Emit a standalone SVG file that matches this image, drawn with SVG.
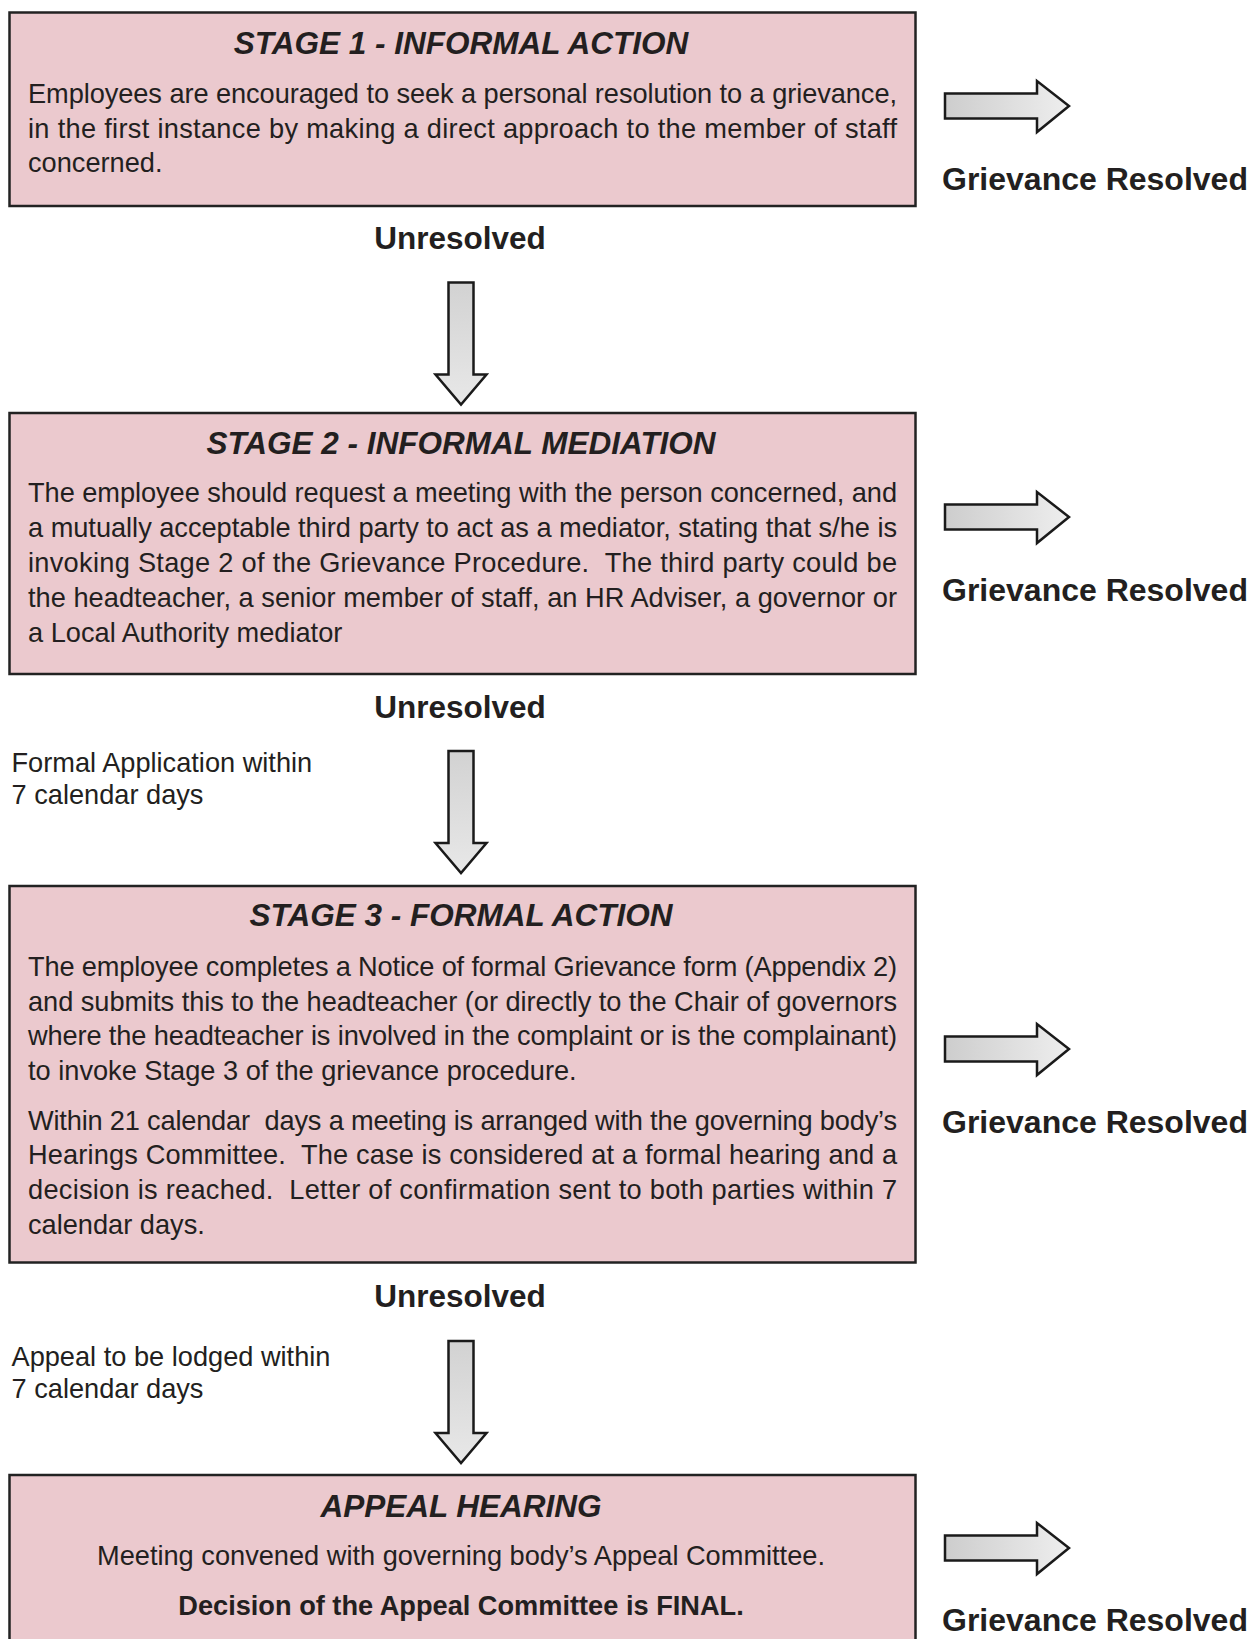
<svg xmlns="http://www.w3.org/2000/svg" width="1250" height="1639" viewBox="0 0 1250 1639">
<defs>
<linearGradient id="gh" x1="0" y1="0" x2="1" y2="0"><stop offset="0" stop-color="#cdcdcd"/><stop offset="1" stop-color="#eeeeee"/></linearGradient>
<linearGradient id="gv" x1="0" y1="0" x2="0" y2="1"><stop offset="0" stop-color="#d2d2d2"/><stop offset="1" stop-color="#e8e8e8"/></linearGradient>
<path id="ra" d="M0,-12.5 H92 V-25 L124,0 L92,26 V12.5 H0 Z"/>
<path id="da" d="M-12.5,0 H12.5 V92 H25.5 L0,122 L-25.5,92 H-12.5 Z"/>
</defs>
<style>
.box{fill:#ebc9ce;stroke:#222;stroke-width:2.5}
.t{font-family:"Liberation Sans",Arial,sans-serif;fill:#231f20;white-space:pre}
.title{font-size:31.5px;font-weight:bold;font-style:italic;text-anchor:middle}
.body{font-size:27.2px}
.lbl{font-size:31.5px;font-weight:bold}
.gr{font-size:32px;font-weight:bold}
.ctr{text-anchor:middle}
.rarr{fill:url(#gh);stroke:#1a1a1a;stroke-width:2.5;stroke-linejoin:miter}
.darr{fill:url(#gv);stroke:#1a1a1a;stroke-width:2.5;stroke-linejoin:miter}
</style>
<rect width="1250" height="1639" fill="#fff"/>

<g id="stage1">
<rect class="box" x="9.5" y="12.5" width="906" height="193.5"/>
<text class="t title" x="461" y="53.5">STAGE 1 - INFORMAL ACTION</text>
<text class="t body" x="28" y="103" textLength="869" lengthAdjust="spacing">Employees are encouraged to seek a personal resolution to a grievance,</text>
<text class="t body" x="28" y="137.5" textLength="869" lengthAdjust="spacing">in the first instance by making a direct approach to the member of staff</text>
<text class="t body" x="28" y="172">concerned.</text>
</g>

<g id="stage2">
<rect class="box" x="9.5" y="413" width="906" height="261"/>
<text class="t title" x="461" y="453.5">STAGE 2 - INFORMAL MEDIATION</text>
<text class="t body" x="28" y="502" textLength="869" lengthAdjust="spacing">The employee should request a meeting with the person concerned, and</text>
<text class="t body" x="28" y="537" textLength="869" lengthAdjust="spacing">a mutually acceptable third party to act as a mediator, stating that s/he is</text>
<text class="t body" x="28" y="572" textLength="869" lengthAdjust="spacing">invoking Stage 2 of the Grievance Procedure.  The third party could be</text>
<text class="t body" x="28" y="606.5" textLength="869" lengthAdjust="spacing">the headteacher, a senior member of staff, an HR Adviser, a governor or</text>
<text class="t body" x="28" y="641.5">a Local Authority mediator</text>
</g>

<g id="stage3">
<rect class="box" x="9.5" y="886" width="906" height="376.5"/>
<text class="t title" x="461" y="926">STAGE 3 - FORMAL ACTION</text>
<text class="t body" x="28" y="976" textLength="869" lengthAdjust="spacing">The employee completes a Notice of formal Grievance form (Appendix 2)</text>
<text class="t body" x="28" y="1010.5" textLength="869" lengthAdjust="spacing">and submits this to the headteacher (or directly to the Chair of governors</text>
<text class="t body" x="28" y="1045" textLength="869" lengthAdjust="spacing">where the headteacher is involved in the complaint or is the complainant)</text>
<text class="t body" x="28" y="1080">to invoke Stage 3 of the grievance procedure.</text>
<text class="t body" x="28" y="1129.5" textLength="869" lengthAdjust="spacing">Within 21 calendar  days a meeting is arranged with the governing body’s</text>
<text class="t body" x="28" y="1164" textLength="869" lengthAdjust="spacing">Hearings Committee.  The case is considered at a formal hearing and a</text>
<text class="t body" x="28" y="1199" textLength="869" lengthAdjust="spacing">decision is reached.  Letter of confirmation sent to both parties within 7</text>
<text class="t body" x="28" y="1234">calendar days.</text>
</g>

<g id="appeal">
<rect class="box" x="9.5" y="1475" width="906" height="200"/>
<text class="t title" x="461" y="1516.5">APPEAL HEARING</text>
<text class="t body ctr" x="461" y="1565">Meeting convened with governing body’s Appeal Committee.</text>
<text class="t body ctr" x="461" y="1615" font-weight="bold" font-size="27px">Decision of the Appeal Committee is FINAL.</text>
</g>

<g id="resolved1">
<text class="t gr" x="942" y="190">Grievance Resolved</text>
</g>
<g id="resolved2">
<text class="t gr" x="942" y="600.5">Grievance Resolved</text>
</g>
<g id="resolved3">
<text class="t gr" x="942" y="1132.5">Grievance Resolved</text>
</g>
<g id="resolved4">
<text class="t gr" x="942" y="1631">Grievance Resolved</text>
</g>

<g id="labels">
<text class="t lbl ctr" x="460" y="248.5">Unresolved</text>
<text class="t lbl ctr" x="460" y="717.5">Unresolved</text>
<text class="t lbl ctr" x="460" y="1307">Unresolved</text>
<text class="t body" x="11.5" y="772">Formal Application within</text>
<text class="t body" x="11.5" y="804">7 calendar days</text>
<text class="t body" x="11.5" y="1366" font-size="27.5px">Appeal to be lodged within</text>
<text class="t body" x="11.5" y="1398">7 calendar days</text>
</g>

<g id="connectors">
<use href="#da" class="darr" x="461" y="282.5"/>
<use href="#da" class="darr" x="461" y="751"/>
<use href="#da" class="darr" x="461" y="1341"/>
<use href="#ra" class="rarr" x="945" y="106"/>
<use href="#ra" class="rarr" x="945" y="517"/>
<use href="#ra" class="rarr" x="945" y="1049"/>
<use href="#ra" class="rarr" x="945" y="1548"/>
</g>
</svg>
